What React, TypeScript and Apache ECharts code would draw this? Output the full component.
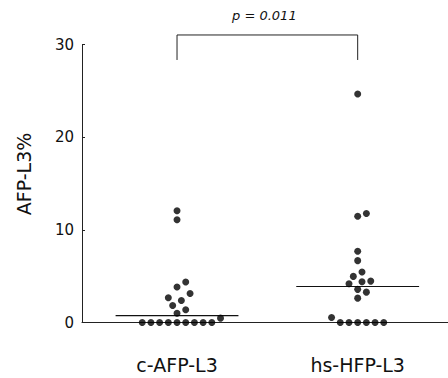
import React, { useEffect, useRef } from "react";
import * as echarts from "echarts";

// ---- data ----
const categories = ["c-AFP-L3", "hs-HFP-L3"];
const cAfpL3 = [12.06, 11.1, 4.37, 3.83, 3.14, 2.68, 2.38, 1.84, 1.37, 1.0, 0.47, 0, 0, 0, 0, 0, 0, 0, 0, 0];
const hsHfpL3 = [24.67, 11.78, 11.48, 7.69, 6.68, 5.45, 4.98, 4.47, 4.41, 4.19, 3.58, 3.28, 2.63, 0.54, 0, 0, 0, 0, 0, 0];
const yTickValues = [0, 10, 20, 30];
const pValueText = "p = 0.011";
const bracketLow = 28.35;
const bracketHigh = 31.05;
const pTextLevel = 33.1;

// ---- layout ----
const W = 448;
const H = 378;
const GRID_LEFT = 82;
const GRID_RIGHT = 0;
const GRID_TOP = 44.7;
const GRID_BOTTOM = 55.5;
const X_MIN = 0.474;
const X_MAX = 2.5;
const Y_MAX = 30;
const DOT = 7;
const FONT = "DejaVu Sans, Liberation Sans, Arial, sans-serif";

function median(vals: number[]) {
  const s = [...vals].sort((a, b) => a - b);
  const n = s.length;
  return n % 2 ? s[(n - 1) / 2] : (s[n / 2 - 1] + s[n / 2]) / 2;
}

// deterministic beeswarm layout: returns x offsets in axis units
function beeswarm(values: number[], pxPerX: number, pxPerY: number, diameter: number, step: number) {
  const order = values.map((_, i) => i).sort((a, b) => values[a] - values[b]);
  const placed: { x: number; y: number }[] = [];
  const offsets = new Array(values.length).fill(0);
  for (const i of order) {
    const y = values[i] * pxPerY;
    for (let k = 0; k < 400; k++) {
      const m = Math.ceil(k / 2) * (k % 2 === 1 ? 1 : -1);
      const x = m * step;
      if (placed.every((p) => Math.hypot(p.x - x, p.y - y) >= diameter)) {
        placed.push({ x, y });
        offsets[i] = x / pxPerX;
        break;
      }
    }
  }
  return offsets;
}

export default function App() {
  const ref = useRef<HTMLDivElement>(null);
  useEffect(() => {
    if (!ref.current) return;
    const chart = echarts.init(ref.current, undefined, { renderer: "svg" });
    const pxPerX = (W - GRID_LEFT - GRID_RIGHT) / (X_MAX - X_MIN);
    const pxPerY = (H - GRID_TOP - GRID_BOTTOM) / Y_MAX;
    const groups = [cAfpL3, hsHfpL3];
    const series: any[] = [];
    groups.forEach((vals, g) => {
      const offs = beeswarm(vals, pxPerX, pxPerY, 8.5, 4.35);
      series.push({
        type: "scatter",
        symbol: "circle",
        symbolSize: DOT,
        itemStyle: { color: "#000" },
        data: vals.map((v, i) => [g + 1 + offs[i], v]),
        z: 3,
      });
      const med = median(vals);
      series.push({
        type: "line",
        symbol: "none",
        lineStyle: { color: "#111", width: 1.2 },
        data: [
          [g + 1 - 0.34, med],
          [g + 1 + 0.34, med],
        ],
        z: 2,
      });
    });
    series.push({
      type: "line",
      symbol: "none",
      clip: false,
      lineStyle: { color: "#222", width: 1 },
      data: [
        [1, bracketLow],
        [1, bracketHigh],
        [2, bracketHigh],
        [2, bracketLow],
      ],
    });

    chart.setOption({
      animation: false,
      backgroundColor: "#fff",
      grid: { left: GRID_LEFT, right: GRID_RIGHT, top: GRID_TOP, bottom: GRID_BOTTOM },
      xAxis: {
        type: "value",
        min: X_MIN,
        max: X_MAX,
        axisLine: { show: true, lineStyle: { color: "#222", width: 1 } },
        axisTick: { show: false },
        splitLine: { show: false },
        axisLabel: {
          customValues: [1, 2],
          formatter: (v: number) => categories[Math.round(v) - 1] ?? "",
          fontSize: 19,
          fontFamily: FONT,
          color: "#111",
          margin: 33,
        },
      },
      yAxis: {
        type: "value",
        min: yTickValues[0],
        max: yTickValues[yTickValues.length - 1],
        interval: 10,
        axisLine: { show: true, lineStyle: { color: "#222", width: 1 } },
        axisTick: { show: true, inside: true, length: 3, lineStyle: { color: "#222" } },
        splitLine: { show: false },
        axisLabel: {
          fontSize: 15,
          fontFamily: FONT,
          color: "#111",
          margin: 8,
          padding: [5, 0, 0, 0],
        },
      },
      series,
    });

    const [px, py] = chart.convertToPixel({ gridIndex: 0 }, [1.5, pTextLevel]) as number[];
    chart.setOption({
      graphic: [
        {
          type: "text",
          x: px - 3,
          y: py,
          style: {
            text: pValueText,
            fontSize: 13,
            fontStyle: "italic",
            fontFamily: FONT,
            fill: "#111",
            align: "center",
            verticalAlign: "middle",
          },
        },
        {
          type: "text",
          x: 24,
          y: 174,
          rotation: Math.PI / 2,
          style: {
            text: "AFP-L3%",
            fontSize: 19,
            fontFamily: FONT,
            fill: "#111",
            align: "center",
            verticalAlign: "middle",
          },
        },
      ],
    });
    return () => chart.dispose();
  }, []);
  return (
    <div
      ref={ref}
      style={{ position: "fixed", left: 0, top: 0, width: W, height: H, background: "#fff" }}
    />
  );
}
